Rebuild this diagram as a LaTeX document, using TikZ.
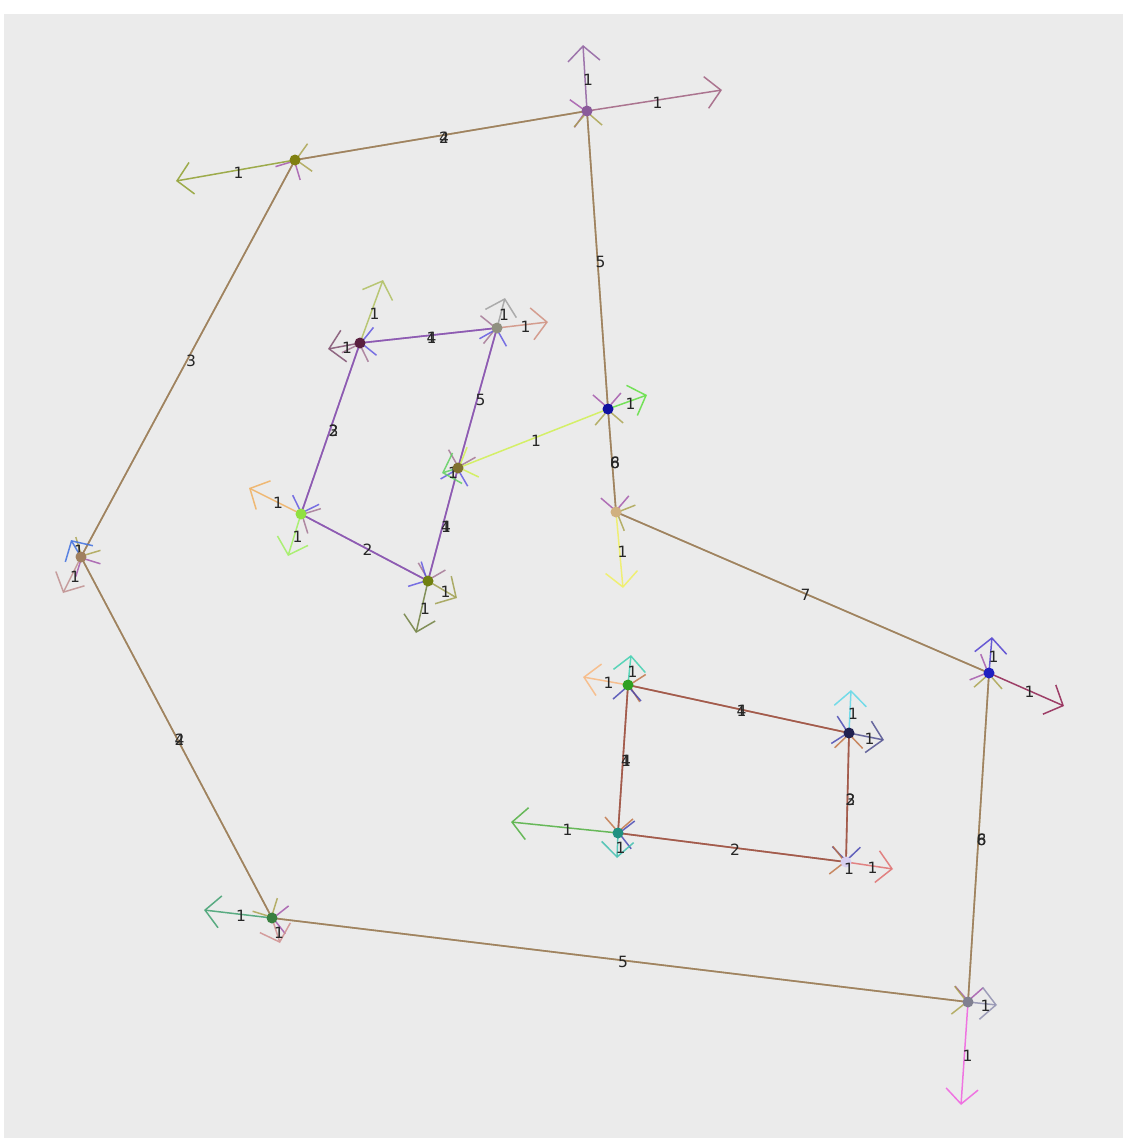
\documentclass[tikz,border=0pt]{standalone}
\usepackage{fontspec}
\setmainfont{DejaVu Sans}
\usetikzlibrary{arrows.meta}
\pgfdeclarelayer{bg}
\pgfdeclarelayer{edges}
\pgfsetlayers{bg,edges,main}
\definecolor{panel}{HTML}{EBEBEB}
% node colours
\definecolor{cA}{HTML}{808010}\definecolor{cB}{HTML}{8A5A9A}
\definecolor{cC}{HTML}{1010A0}\definecolor{cD}{HTML}{D0B080}
\definecolor{cE}{HTML}{2020C0}\definecolor{cF}{HTML}{808090}
\definecolor{cG}{HTML}{3A8040}\definecolor{cH}{HTML}{A08060}
\definecolor{cP}{HTML}{5A2040}\definecolor{cQ}{HTML}{909080}
\definecolor{cR}{HTML}{807030}\definecolor{cS}{HTML}{90E040}
\definecolor{cT}{HTML}{708010}\definecolor{cU}{HTML}{30A020}
\definecolor{cV}{HTML}{202050}\definecolor{cW}{HTML}{D8D0F0}
\definecolor{cX}{HTML}{209080}
% edge colours
\definecolor{obrown}{HTML}{9E7A5E}\definecolor{oolive}{HTML}{98904A}
\definecolor{opurp}{HTML}{A050A8}\definecolor{otick}{HTML}{A8A048}
\definecolor{qline}{HTML}{8A55B0}\definecolor{qblue}{HTML}{5A50E0}\definecolor{qmauve}{HTML}{A07090}
\definecolor{rline}{HTML}{A05545}\definecolor{rnavy}{HTML}{4040B0}\definecolor{rorange}{HTML}{C07040}
% pendant colours
\definecolor{kCR}{HTML}{D0F050}
\definecolor{kA}{HTML}{90A030}
\definecolor{kBa}{HTML}{9060A0}\definecolor{kBb}{HTML}{A06080}
\definecolor{kC}{HTML}{60E040}
\definecolor{kD}{HTML}{F0F060}
\definecolor{kEa}{HTML}{5040D0}\definecolor{kEb}{HTML}{902050}
\definecolor{kFa}{HTML}{9090B0}\definecolor{kFb}{HTML}{F060E0}
\definecolor{kGa}{HTML}{40A070}\definecolor{kGb}{HTML}{D09090}
\definecolor{kHa}{HTML}{4070E0}\definecolor{kHb}{HTML}{C09090}
\definecolor{kPa}{HTML}{B0C060}\definecolor{kPb}{HTML}{805070}
\definecolor{kQa}{HTML}{A0A0A0}\definecolor{kQb}{HTML}{D09080}
\definecolor{kR}{HTML}{60D060}
\definecolor{kSa}{HTML}{F0B060}\definecolor{kSb}{HTML}{A0F060}
\definecolor{kTa}{HTML}{A0A050}\definecolor{kTb}{HTML}{708040}
\definecolor{kUa}{HTML}{F8B880}\definecolor{kUb}{HTML}{40D0B0}
\definecolor{kVa}{HTML}{60D8E8}\definecolor{kVb}{HTML}{505090}
\definecolor{kW}{HTML}{E07070}
\definecolor{kXa}{HTML}{50B040}\definecolor{kXb}{HTML}{40C0B0}
\tikzset{
  dot/.style={circle,inner sep=0pt,minimum size=11pt,draw=none},
  lab/.style={font=\fontsize{15.5}{16}\selectfont,text=black!85,inner sep=0pt,xshift=3pt,yshift=-2pt},
  edg/.style={line width=1.6pt,draw=#1,draw opacity=0.8},
  tipd/.style={-{Straight Barb[length=14pt,width=28pt,color=#1,line width=1.5pt]}},
  pend/.style={line width=1.5pt,draw=#1,draw opacity=0.85,
     -{Straight Barb[length=15pt,width=32pt,color=#1,line width=1.5pt]}},
}
\newcommand\biedge[6]{% a b linecolor1 tipcolor1 linecolor2 tipcolor2
  \draw[edg=#5,tipd=#6] (#2.center) -- (#1.center);
  \draw[edg=#3,tipd=#4] (#1.center) -- (#2.center);}
\newcommand\pendarr[4]{% node target color label
  \draw[pend=#3] (#1.center) -- (#2) node[lab,midway]{#4};}
\begin{document}
\begin{tikzpicture}[x=1pt,y=-1pt]
\useasboundingbox (0,0) rectangle (1123,1138);
\begin{pgfonlayer}{bg}
\fill[white] (0,0) rectangle (1123,1138);
\fill[panel] (4,14) rectangle (1123,1138);
\end{pgfonlayer}
% nodes
\node[dot,fill=cA] (A) at (295,160) {};
\node[dot,fill=cB] (B) at (587,111) {};
\node[dot,fill=cC] (C) at (608,409) {};
\node[dot,fill=cD] (D) at (616,512) {};
\node[dot,fill=cE] (E) at (989,673) {};
\node[dot,fill=cF] (F) at (968,1002) {};
\node[dot,fill=cG] (G) at (272,918) {};
\node[dot,fill=cH] (H) at (81,557) {};
\node[dot,fill=cP] (P) at (360,343) {};
\node[dot,fill=cQ] (Q) at (497,328) {};
\node[dot,fill=cR] (R) at (458,468) {};
\node[dot,fill=cS] (S) at (301,514) {};
\node[dot,fill=cT] (T) at (428,581) {};
\node[dot,fill=cU] (U) at (628,685) {};
\node[dot,fill=cV] (V) at (849,733) {};
\node[dot,fill=cW] (W) at (846,862) {};
\node[dot,fill=cX] (X) at (618,833) {};
% free ends
\coordinate (a1) at (176,181);
\coordinate (b1) at (583,45);  \coordinate (b2) at (722,90);
\coordinate (c1) at (647,395);
\coordinate (d1) at (623,588);
\coordinate (e1) at (992,637); \coordinate (e2) at (1064,706);
\coordinate (f1) at (997,1005); \coordinate (f2) at (961,1105);
\coordinate (g1) at (204,910); \coordinate (g2) at (280,943);
\coordinate (h1) at (71,540);  \coordinate (h2) at (63,593);
\coordinate (p1) at (383,280); \coordinate (p2) at (328,349);
\coordinate (q1) at (505,298); \coordinate (q2) at (548,322);
\coordinate (r1) at (442,473);
\coordinate (s1) at (249,488); \coordinate (s2) at (288,556);
\coordinate (t1) at (457,598); \coordinate (t2) at (416,633);
\coordinate (u1) at (583,677); \coordinate (u2) at (631,655);
\coordinate (v1) at (851,690); \coordinate (v2) at (884,740);
\coordinate (w1) at (893,869);
\coordinate (x1) at (511,822); \coordinate (x2) at (617,858);
\begin{pgfonlayer}{edges}
% outer ring
\biedge{A}{B}{obrown}{opurp}{oolive}{otick}
\biedge{B}{C}{obrown}{opurp}{oolive}{otick}
\biedge{C}{D}{obrown}{opurp}{oolive}{otick}
\biedge{D}{E}{obrown}{opurp}{oolive}{otick}
\biedge{E}{F}{obrown}{opurp}{oolive}{otick}
\biedge{F}{G}{obrown}{opurp}{oolive}{otick}
\biedge{G}{H}{obrown}{opurp}{oolive}{otick}
\biedge{H}{A}{obrown}{opurp}{oolive}{otick}
% quad 1
\biedge{P}{Q}{qline}{qmauve}{qline}{qblue}
\biedge{Q}{R}{qline}{qmauve}{qline}{qblue}
\biedge{R}{T}{qline}{qmauve}{qline}{qblue}
\biedge{T}{S}{qline}{qmauve}{qline}{qblue}
\biedge{S}{P}{qline}{qmauve}{qline}{qblue}
% quad 2
\biedge{U}{V}{rline}{rnavy}{rline}{rorange}
\biedge{V}{W}{rline}{rnavy}{rline}{rorange}
\biedge{W}{X}{rline}{rnavy}{rline}{rorange}
\biedge{X}{U}{rline}{rnavy}{rline}{rorange}
% bridge
\draw[pend=kCR] (C.center) -- (R.center) node[lab,midway]{1};
% pendant arrows
\pendarr{A}{a1}{kA}{1}
\pendarr{B}{b1}{kBa}{1}
\pendarr{B}{b2}{kBb}{1}
\pendarr{C}{c1}{kC}{1}
\pendarr{D}{d1}{kD}{1}
\pendarr{E}{e1}{kEa}{1}
\pendarr{E}{e2}{kEb}{1}
\pendarr{F}{f1}{kFa}{1}
\pendarr{F}{f2}{kFb}{1}
\pendarr{G}{g1}{kGa}{1}
\pendarr{G}{g2}{kGb}{1}
\pendarr{H}{h1}{kHa}{1}
\pendarr{H}{h2}{kHb}{1}
\pendarr{P}{p1}{kPa}{1}
\pendarr{P}{p2}{kPb}{1}
\pendarr{Q}{q1}{kQa}{1}
\pendarr{Q}{q2}{kQb}{1}
\pendarr{R}{r1}{kR}{1}
\pendarr{S}{s1}{kSa}{1}
\pendarr{S}{s2}{kSb}{1}
\pendarr{T}{t1}{kTa}{1}
\pendarr{T}{t2}{kTb}{1}
\pendarr{U}{u1}{kUa}{1}
\pendarr{U}{u2}{kUb}{1}
\pendarr{V}{v1}{kVa}{1}
\pendarr{V}{v2}{kVb}{1}
\pendarr{W}{w1}{kW}{1}
\pendarr{X}{x1}{kXa}{1}
\pendarr{X}{x2}{kXb}{1}
\end{pgfonlayer}
% edge weight labels (overlaid pairs)
\path (A) -- (B) node[lab,midway]{2} node[lab,midway]{4};
\path (B) -- (C) node[lab,midway]{5};
\path (C) -- (D) node[lab,midway]{6} node[lab,midway]{8};
\path (D) -- (E) node[lab,midway]{7};
\path (E) -- (F) node[lab,midway]{8} node[lab,midway]{6};
\path (F) -- (G) node[lab,midway]{5};
\path (G) -- (H) node[lab,midway]{4} node[lab,midway]{2};
\path (H) -- (A) node[lab,midway]{3};
\path (P) -- (Q) node[lab,midway]{1} node[lab,midway]{4};
\path (Q) -- (R) node[lab,midway]{5};
\path (R) -- (T) node[lab,midway]{1} node[lab,midway]{4};
\path (T) -- (S) node[lab,midway]{2};
\path (S) -- (P) node[lab,midway]{2} node[lab,midway]{3};
\path (U) -- (V) node[lab,midway]{1} node[lab,midway]{4};
\path (V) -- (W) node[lab,midway]{2} node[lab,midway]{3};
\path (W) -- (X) node[lab,midway]{2};
\path (X) -- (U) node[lab,midway]{1} node[lab,midway]{4};
\node[lab] (wl) at (846,867) {1};
\end{tikzpicture}
\end{document}
